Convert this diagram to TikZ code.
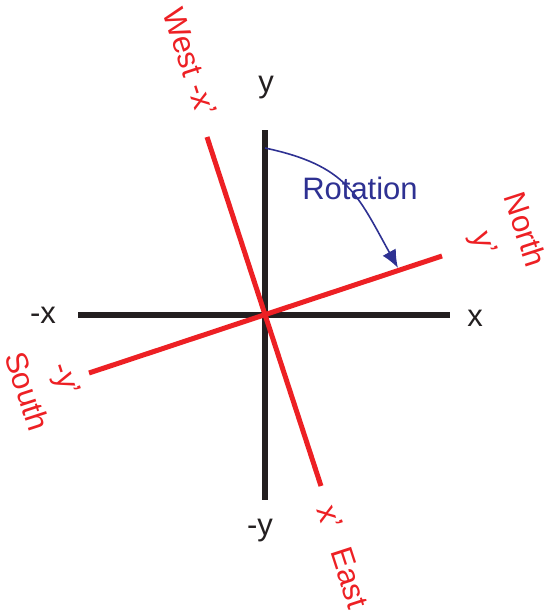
\documentclass[tikz,border=0pt]{standalone}
\usepackage{fontspec}
\setmainfont{Liberation Sans}
\usetikzlibrary{arrows.meta, positioning}
\definecolor{axblack}{RGB}{35,31,32}
\definecolor{rotred}{RGB}{237,32,36}
\definecolor{rotnavy}{RGB}{46,49,146}
\tikzset{
  axis/.style     = {draw=axblack, line width=2.8pt},
  rotaxis/.style  = {draw=rotred, line width=2.5pt},
  axislab/.style  = {text=axblack, font=\fontsize{15.5}{18}\selectfont, inner sep=0pt},
  rotlab/.style   = {text=rotred, font=\fontsize{15.5}{21}\selectfont, align=center,
                     rotate=-72, inner sep=0pt},
  rotarrow/.style = {-{Latex[length=9pt,width=7.5pt]}, draw=rotnavy, line width=0.8pt},
  rotlabel/.style = {text=rotnavy, font=\fontsize{15.5}{18}\selectfont, inner sep=0pt},
}

\begin{document}
\begin{tikzpicture}[x=0.5pt, y=0.5pt]
\useasboundingbox (0,0) rectangle (548,-616);

% ---------- fixed axes ----------
\coordinate (o) at (265,-315);
\coordinate (xneg) at (78,-315);
\coordinate (xpos) at (450,-315);
\coordinate (ypos) at (265,-130);
\coordinate (yneg) at (265,-500);
\draw[axis] (xneg) -- (xpos);
\draw[axis] (ypos) -- (yneg);

% ---------- rotated axes ----------
\coordinate (xrtop) at (207,-137);
\coordinate (xrbot) at (321,-486);
\coordinate (yrneg) at (89,-373);
\coordinate (yrpos) at (442,-256);
\draw[rotaxis] (xrtop) -- (xrbot);
\draw[rotaxis] (yrneg) -- (yrpos);

% ---------- labels ----------
\node[axislab] (ylab) at (266,-88) {y};
\node[axislab] (yneglab) at (260,-531) {-y};
\node[axislab] (xlab) at (475,-318) {x};
\node[axislab] (xneglab) at (43,-315) {-x};

\node[rotlab] (west) at (190,-62) {West -x’};
\node[rotlab] (east) at (343,-557) {x’\hspace{0.7em}East};
\node[rotlab] (north) at (503,-237) {North\\y’};
\node[rotlab] (south) at (47,-385) {-y’\\South};

% ---------- rotation ----------
\coordinate (rotstart) at (265,-148);
\coordinate (rotend) at (398,-268);
\draw[rotarrow] (rotstart) to[out=-12, in=119, looseness=1.2] (rotend);
\node[rotlabel] (rot) at (360,-188) {Rotation};

\end{tikzpicture}
\end{document}
